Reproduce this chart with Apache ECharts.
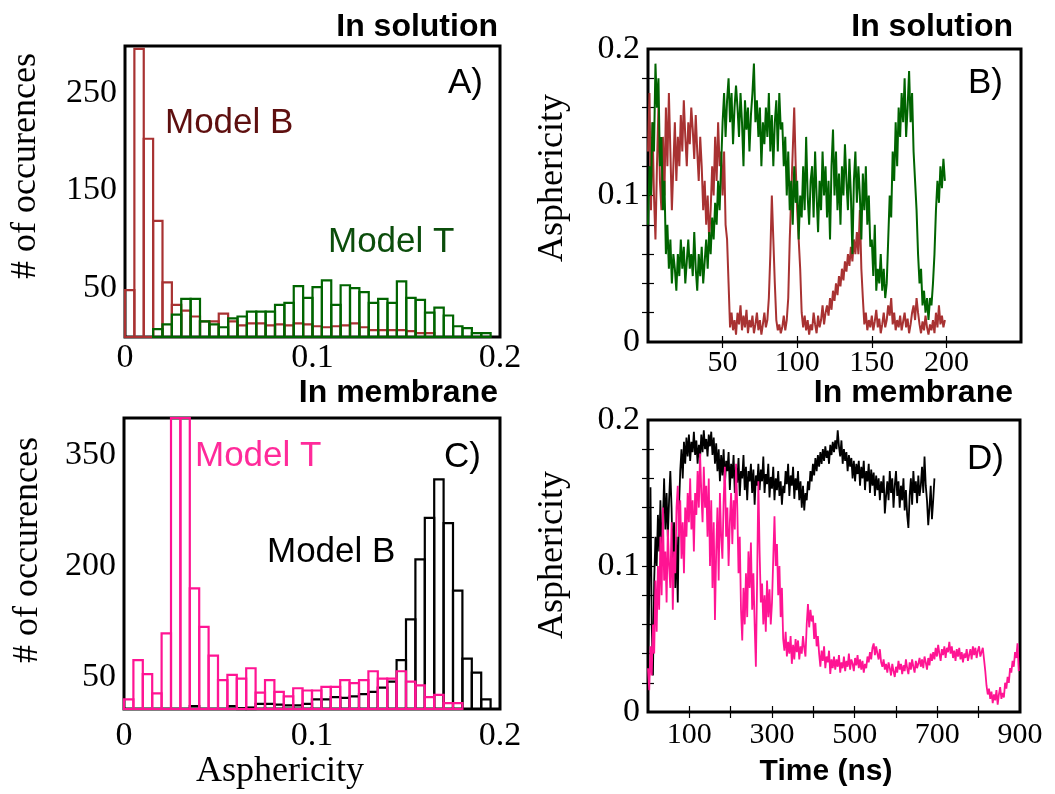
<!DOCTYPE html>
<html><head><meta charset="utf-8">
<script src="https://cdn.jsdelivr.net/npm/echarts@6/dist/echarts.min.js"></script>
<style>html,body{margin:0;padding:0;background:#fff}#c{width:1055px;height:794px}</style>
</head><body><div id="c"></div>
<script>
// ---------- DATA ----------
const binWidth = 0.005;            // histogram bin width (asphericity)
const binStart = 0;                // first bin edge
// Panel A (in solution) histogram counts
const histA_modelB = [48,295,203,119,56,33,27,21,16,16,24,16,12,14,14,12,13,12,14,13,11,10,11,12,14,10,7,7,7,7,6,4,4,0,0,0,0,0,0,0];
const histA_modelT = [0,0,0,8,13,23,39,39,16,13,10,19,21,26,26,26,33,35,52,40,51,58,33,53,50,46,35,39,35,57,40,38,25,30,22,11,9,4,4,0];
// Panel C (in membrane) histogram counts
const histC_modelT = [20,73,54,28,109,520,480,170,118,79,46,53,48,62,29,46,30,24,35,32,32,37,37,46,42,46,58,48,48,58,44,39,23,26,15,15,0,0,0,0];
const histC_modelB = [0,0,0,0,0,0,0,11,5,5,5,11,8,9,14,14,13,12,12,14,20,20,23,22,24,27,30,36,44,73,128,209,265,317,258,167,75,56,20,0];
// Panel B (in solution) time series, 1 ns sampling from t = 0
const timeStepB = 1;
const asphB_modelT = [0.08,0.12,0.10,0.15,0.13,0.19,0.16,0.18,0.12,0.14,
 0.09,0.11,0.06,0.08,0.05,0.07,0.04,0.06,0.05,0.035,
 0.06,0.045,0.07,0.05,0.065,0.04,0.055,0.07,0.05,0.06,
 0.045,0.075,0.05,0.035,0.06,0.045,0.065,0.04,0.055,0.07,
 0.05,0.075,0.06,0.085,0.07,0.095,0.08,0.11,0.09,0.12,
 0.15,0.17,0.14,0.165,0.18,0.15,0.17,0.135,0.16,0.175,
 0.16,0.14,0.17,0.15,0.12,0.165,0.145,0.16,0.13,0.155,
 0.17,0.19,0.15,0.165,0.14,0.16,0.12,0.15,0.135,0.16,
 0.14,0.17,0.13,0.155,0.12,0.15,0.165,0.13,0.17,0.145,
 0.15,0.12,0.14,0.10,0.13,0.09,0.11,0.08,0.12,0.095,
 0.11,0.07,0.10,0.085,0.12,0.09,0.14,0.10,0.08,0.11,
 0.12,0.085,0.13,0.10,0.075,0.11,0.09,0.13,0.10,0.12,
 0.085,0.11,0.07,0.12,0.145,0.10,0.13,0.09,0.115,0.08,
 0.12,0.10,0.135,0.11,0.09,0.125,0.10,0.06,0.11,0.13,
 0.095,0.12,0.10,0.07,0.115,0.09,0.12,0.08,0.10,0.065,
 0.07,0.045,0.08,0.035,0.05,0.04,0.06,0.035,0.05,0.03,
 0.04,0.07,0.10,0.085,0.13,0.11,0.15,0.12,0.16,0.14,
 0.17,0.15,0.18,0.14,0.16,0.185,0.15,0.17,0.13,0.11,
 0.09,0.06,0.04,0.05,0.025,0.035,0.02,0.03,0.015,0.03,
 0.025,0.04,0.06,0.09,0.11,0.095,0.12,0.105,0.125,0.11];
const asphB_modelB = [0.13,0.17,0.09,0.15,0.10,0.07,0.12,0.16,0.11,0.09,
 0.14,0.10,0.16,0.12,0.17,0.13,0.09,0.12,0.15,0.11,
 0.14,0.12,0.155,0.13,0.165,0.14,0.12,0.15,0.135,0.16,
 0.145,0.125,0.155,0.13,0.11,0.14,0.12,0.09,0.11,0.08,
 0.10,0.07,0.09,0.12,0.10,0.14,0.11,0.15,0.12,0.13,
 0.10,0.13,0.08,0.07,0.04,0.01,0.02,0.008,0.015,0.005,
 0.02,0.012,0.025,0.008,0.018,0.01,0.022,0.006,0.015,0.01,
 0.018,0.006,0.012,0.02,0.008,0.015,0.005,0.012,0.02,0.01,
 0.015,0.03,0.06,0.10,0.07,0.04,0.015,0.008,0.012,0.006,
 0.01,0.018,0.008,0.015,0.03,0.07,0.10,0.13,0.16,0.12,
 0.09,0.07,0.05,0.02,0.01,0.018,0.008,0.015,0.005,0.012,
 0.008,0.02,0.012,0.006,0.018,0.01,0.015,0.025,0.012,0.02,
 0.025,0.018,0.03,0.022,0.035,0.028,0.04,0.032,0.045,0.038,
 0.05,0.042,0.055,0.048,0.06,0.052,0.065,0.055,0.07,0.06,
 0.075,0.06,0.09,0.05,0.03,0.012,0.02,0.008,0.015,0.01,
 0.018,0.008,0.014,0.022,0.01,0.016,0.006,0.012,0.02,0.01,
 0.015,0.025,0.018,0.03,0.012,0.02,0.008,0.015,0.01,0.018,
 0.008,0.014,0.02,0.01,0.016,0.006,0.012,0.02,0.025,0.015,
 0.03,0.02,0.012,0.006,0.014,0.008,0.018,0.01,0.005,0.012,
 0.008,0.015,0.006,0.02,0.01,0.025,0.012,0.018,0.01,0.015];
// Panel D (in membrane) time series, 3 ns sampling from t = 0
const timeStepD = 3;
const asphD_modelB = [0.03,0.08,0.154,0.06,0.025,0.09,0.12,0.1,0.135,0.11,
 0.145,0.115,0.13,0.16,0.125,0.15,0.12,0.145,0.165,0.14,
 0.1,0.13,0.085,0.12,0.075,0.14,0.165,0.18,0.16,0.185,
 0.17,0.188,0.175,0.19,0.172,0.185,0.178,0.192,0.176,0.186,
 0.17,0.183,0.174,0.19,0.178,0.193,0.18,0.187,0.175,0.19,
 0.182,0.192,0.176,0.188,0.17,0.184,0.165,0.18,0.158,0.176,
 0.162,0.18,0.155,0.172,0.165,0.178,0.152,0.17,0.16,0.176,
 0.15,0.168,0.157,0.174,0.148,0.165,0.16,0.176,0.152,0.168,
 0.145,0.165,0.158,0.17,0.15,0.166,0.142,0.162,0.155,0.17,
 0.152,0.166,0.158,0.175,0.15,0.163,0.156,0.17,0.147,0.161,
 0.153,0.168,0.145,0.16,0.152,0.165,0.148,0.158,0.142,0.155,
 0.15,0.165,0.156,0.17,0.148,0.162,0.155,0.168,0.146,0.16,
 0.152,0.165,0.145,0.158,0.14,0.155,0.138,0.15,0.145,0.158,
 0.152,0.165,0.158,0.17,0.162,0.174,0.165,0.176,0.168,0.178,
 0.17,0.18,0.172,0.182,0.174,0.179,0.17,0.183,0.176,0.185,
 0.178,0.186,0.18,0.193,0.182,0.175,0.186,0.17,0.18,0.172,
 0.178,0.165,0.176,0.168,0.174,0.16,0.172,0.158,0.17,0.163,
 0.172,0.155,0.168,0.16,0.172,0.152,0.165,0.158,0.17,0.15,
 0.166,0.155,0.164,0.148,0.162,0.152,0.16,0.145,0.158,0.15,
 0.162,0.136,0.148,0.158,0.145,0.165,0.15,0.16,0.14,0.155,
 0.165,0.148,0.158,0.14,0.155,0.145,0.16,0.138,0.152,0.135,
 0.126,0.148,0.16,0.142,0.165,0.15,0.158,0.143,0.162,0.148,
 0.155,0.168,0.15,0.175,0.155,0.145,0.128,0.14,0.155,0.132,
 0.145,0.16];
const asphD_modelT = [0.03,0.015,0.045,0.025,0.06,0.04,0.09,0.055,0.1,0.07,
 0.12,0.08,0.14,0.09,0.11,0.075,0.125,0.1,0.085,0.13,
 0.07,0.11,0.095,0.14,0.155,0.12,0.145,0.105,0.13,0.095,
 0.14,0.12,0.15,0.13,0.16,0.125,0.145,0.11,0.15,0.135,
 0.165,0.14,0.177,0.15,0.13,0.168,0.14,0.155,0.12,0.16,
 0.1,0.145,0.085,0.13,0.063,0.11,0.14,0.09,0.15,0.12,
 0.105,0.145,0.168,0.12,0.14,0.1,0.13,0.15,0.115,0.145,
 0.125,0.17,0.14,0.095,0.12,0.07,0.049,0.085,0.06,0.095,
 0.065,0.11,0.085,0.116,0.07,0.095,0.06,0.031,0.09,0.158,
 0.11,0.075,0.088,0.06,0.08,0.055,0.09,0.065,0.084,0.06,
 0.075,0.105,0.134,0.1,0.115,0.08,0.1,0.065,0.085,0.05,
 0.042,0.055,0.038,0.048,0.04,0.052,0.033,0.046,0.036,0.05,
 0.041,0.049,0.036,0.045,0.04,0.052,0.044,0.038,0.06,0.074,
 0.058,0.07,0.062,0.066,0.05,0.061,0.045,0.052,0.04,0.031,
 0.042,0.035,0.045,0.03,0.038,0.034,0.042,0.026,0.036,0.03,
 0.038,0.029,0.036,0.031,0.039,0.027,0.034,0.03,0.038,0.028,
 0.035,0.031,0.04,0.029,0.036,0.033,0.028,0.037,0.032,0.039,
 0.03,0.036,0.029,0.035,0.027,0.033,0.03,0.038,0.034,0.041,
 0.036,0.044,0.047,0.039,0.045,0.04,0.036,0.043,0.034,0.031,
 0.036,0.029,0.033,0.027,0.034,0.03,0.025,0.033,0.028,0.024,
 0.031,0.027,0.035,0.029,0.033,0.026,0.032,0.028,0.036,0.03,
 0.026,0.034,0.029,0.036,0.031,0.027,0.035,0.03,0.033,0.037,
 0.031,0.036,0.03,0.038,0.034,0.029,0.037,0.032,0.04,0.035,
 0.041,0.036,0.044,0.038,0.046,0.04,0.035,0.043,0.039,0.045,
 0.037,0.044,0.041,0.048,0.04,0.045,0.037,0.042,0.035,0.043,
 0.038,0.044,0.036,0.041,0.034,0.04,0.037,0.043,0.035,0.039,
 0.043,0.036,0.045,0.039,0.044,0.037,0.042,0.045,0.038,0.041,
 0.044,0.036,0.028,0.018,0.012,0.016,0.009,0.014,0.006,0.012,
 0.008,0.015,0.005,0.012,0.017,0.009,0.013,0.01,0.02,0.016,
 0.024,0.02,0.03,0.027,0.035,0.031,0.041,0.037,0.047,0.028];
// Tick labels
const histX_ticks = [0, 0.1, 0.2];
const histA_yTicks = [50, 150, 250];
const histC_yTicks = [50, 200, 350];
const asph_yTicks = [0, 0.1, 0.2];
const asph_minorTicks = [0.02,0.04,0.06,0.08,0.1,0.12,0.14,0.16,0.18];
const timeB_ticks = [50, 100, 150, 200];
const timeD_labels = [100, 300, 500, 700, 900];
const timeD_ticks = [100, 200, 300, 400, 500, 600, 700, 800];

// ---------- helpers ----------
const SERIF = "'Liberation Serif','Times New Roman',serif";
const SANS = "'Liberation Sans',Arial,Helvetica,sans-serif";
const COL = {brown:'#a83232', green:'#006400', pink:'#ff1493', black:'#000000'};

function histData(values){ return values.map((v,i)=>[binStart+i*binWidth, binStart+(i+1)*binWidth, v]); }
function histSeries(xi, yi, values, color, z){
  return {
    type:'custom', xAxisIndex:xi, yAxisIndex:yi, z:z, silent:true,
    encode:{x:[0,1], y:2},
    renderItem:function(params, api){
      const cs = params.coordSys;
      const p0 = api.coord([api.value(0), 0]);
      const p1 = api.coord([api.value(1), api.value(2)]);
      const rect = {x:p0[0], y:p1[1], width:p1[0]-p0[0], height:(cs.y+cs.height)-p1[1]};
      if (rect.height <= 0) return null;
      const shape = echarts.graphic.clipRectByRect(rect, {x:cs.x, y:cs.y, width:cs.width, height:cs.height});
      if (!shape) return null;
      return {type:'rect', shape:shape, style:{fill:'none', stroke:color, lineWidth:2.2}};
    },
    data: histData(values)
  };
}
function lineSeries(xi, yi, values, step, color, z, w){
  return {type:'line', xAxisIndex:xi, yAxisIndex:yi, z:z, silent:true, showSymbol:false, symbol:'none',
    sampling:null, animation:false,
    lineStyle:{color:color, width:w}, data: values.map((v,i)=>[i*step, v])};
}
const labelBase = {color:'#000', fontFamily:SERIF, fontSize:34};
function hideAll(){ return {axisLine:{show:false}, splitLine:{show:false}}; }

const grids = [
  {left:125, top:46, width:375, height:291},   // A
  {left:648, top:49, width:373, height:293},   // B
  {left:124, top:418, width:376, height:291},  // C
  {left:648, top:420, width:372, height:292}   // D
].map(g=>Object.assign({show:true, borderColor:'#000', borderWidth:3, backgroundColor:'transparent', containLabel:false, outerBoundsMode:'none'}, g));

const tickIn = {show:true, inside:true, length:6, lineStyle:{color:'#000', width:1.2}};

const xAxes = [
  Object.assign(hideAll(), {gridIndex:0, type:'value', min:0, max:0.2, interval:0.1, axisTick:{show:false},
    axisLabel:Object.assign({}, labelBase, {margin:4, customValues:histX_ticks})}),
  Object.assign(hideAll(), {gridIndex:1, type:'value', min:0, max:250, interval:50,
    axisTick:Object.assign({}, tickIn, {customValues:timeB_ticks}),
    axisLabel:Object.assign({}, labelBase, {fontSize:30, margin:6, customValues:timeB_ticks})}),
  Object.assign(hideAll(), {gridIndex:1, type:'value', position:'top', min:0, max:250, interval:50,
    axisTick:Object.assign({}, tickIn, {customValues:timeB_ticks}), axisLabel:{show:false}}),
  Object.assign(hideAll(), {gridIndex:2, type:'value', min:0, max:0.2, interval:0.1, axisTick:{show:false},
    axisLabel:Object.assign({}, labelBase, {margin:10, customValues:histX_ticks})}),
  Object.assign(hideAll(), {gridIndex:3, type:'value', min:0, max:900, interval:100,
    axisTick:Object.assign({}, tickIn, {customValues:timeD_ticks}),
    axisLabel:Object.assign({}, labelBase, {fontSize:30, margin:8, customValues:timeD_labels})}),
  Object.assign(hideAll(), {gridIndex:3, type:'value', position:'top', min:0, max:900, interval:100,
    axisTick:Object.assign({}, tickIn, {customValues:timeD_ticks}), axisLabel:{show:false}})
];
const yAxes = [
  Object.assign(hideAll(), {gridIndex:0, type:'value', min:0, max:298, axisTick:{show:false},
    axisLabel:Object.assign({}, labelBase, {margin:8, customValues:histA_yTicks})}),
  Object.assign(hideAll(), {gridIndex:1, type:'value', min:0, max:0.2, interval:0.02,
    axisTick:Object.assign({}, tickIn, {customValues:asph_minorTicks}),
    axisLabel:Object.assign({}, labelBase, {margin:8, customValues:asph_yTicks})}),
  Object.assign(hideAll(), {gridIndex:1, type:'value', position:'right', min:0, max:0.2, interval:0.02,
    axisTick:Object.assign({}, tickIn, {customValues:asph_minorTicks}), axisLabel:{show:false}}),
  Object.assign(hideAll(), {gridIndex:2, type:'value', min:7, max:400, axisTick:{show:false},
    axisLabel:Object.assign({}, labelBase, {margin:8, customValues:histC_yTicks})}),
  Object.assign(hideAll(), {gridIndex:3, type:'value', min:0, max:0.2, interval:0.02,
    axisTick:Object.assign({}, tickIn, {customValues:asph_minorTicks}),
    axisLabel:Object.assign({}, labelBase, {margin:8, customValues:asph_yTicks})}),
  Object.assign(hideAll(), {gridIndex:3, type:'value', position:'right', min:0, max:0.2, interval:0.02,
    axisTick:Object.assign({}, tickIn, {customValues:asph_minorTicks}), axisLabel:{show:false}})
];

function txt(text, x, y, opts){
  return {type:'text', x:x, y:y, rotation:opts.rot||0, z:100, silent:true,
    style:{text:text, fill:opts.color||'#000', font:opts.font,
      align:opts.align||'left', textAlign:opts.align||'left',
      verticalAlign:'middle', textVerticalAlign:'middle'}};
}
const titleFont = 'bold 32px ' + SANS;
const modelFont = '35px ' + SANS;
const letterFont = '35px ' + SANS;
const nameFont = '36px ' + SERIF;
const graphics = [
  txt('In solution', 498, 27, {font:titleFont, align:'right'}),
  txt('In solution', 1013, 27, {font:titleFont, align:'right'}),
  txt('In membrane', 498, 393, {font:titleFont, align:'right'}),
  txt('In membrane', 1013, 393, {font:titleFont, align:'right'}),
  txt('A)', 483, 83, {font:letterFont, align:'right'}),
  txt('B)', 1003, 83, {font:letterFont, align:'right'}),
  txt('C)', 481, 457, {font:letterFont, align:'right'}),
  txt('D)', 1004, 459, {font:letterFont, align:'right'}),
  txt('Model B', 165, 123, {font:modelFont, color:'#5e0f0f'}),
  txt('Model T', 328, 242, {font:modelFont, color:'#0b4d0b'}),
  txt('Model T', 195, 456, {font:modelFont, color:'#ff2a9a'}),
  txt('Model B', 267, 552, {font:modelFont, color:'#000'}),
  txt('# of occurences', 26, 166, {font:nameFont, align:'center', rot:Math.PI/2}),
  txt('# of occurences', 28, 550, {font:nameFont, align:'center', rot:Math.PI/2}),
  txt('Asphericity', 553, 178, {font:nameFont, align:'center', rot:Math.PI/2}),
  txt('Asphericity', 553, 555, {font:nameFont, align:'center', rot:Math.PI/2}),
  txt('Asphericity', 280, 772, {font:nameFont, align:'center'}),
  txt('Time (ns)', 826, 772, {font:'bold 30px ' + SANS, align:'center'})
];

const option = {
  animation:false,
  backgroundColor:'#ffffff',
  textStyle:{fontFamily:SERIF},
  grid:grids,
  xAxis:xAxes,
  yAxis:yAxes,
  series:[
    histSeries(0, 0, histA_modelB, COL.brown, 2),
    histSeries(0, 0, histA_modelT, COL.green, 3),
    lineSeries(1, 1, asphB_modelB, timeStepB, COL.brown, 2, 2),
    lineSeries(1, 1, asphB_modelT, timeStepB, COL.green, 3, 2),
    histSeries(3, 3, histC_modelB, COL.black, 2),
    histSeries(3, 3, histC_modelT, COL.pink, 3),
    lineSeries(4, 4, asphD_modelB, timeStepD, COL.black, 2, 1.8),
    lineSeries(4, 4, asphD_modelT, timeStepD, COL.pink, 3, 1.8)
  ],
  graphic:graphics
};
const chart = echarts.init(document.getElementById('c'), null, {renderer:'canvas'});
chart.setOption(option);
</script>
</body></html>
